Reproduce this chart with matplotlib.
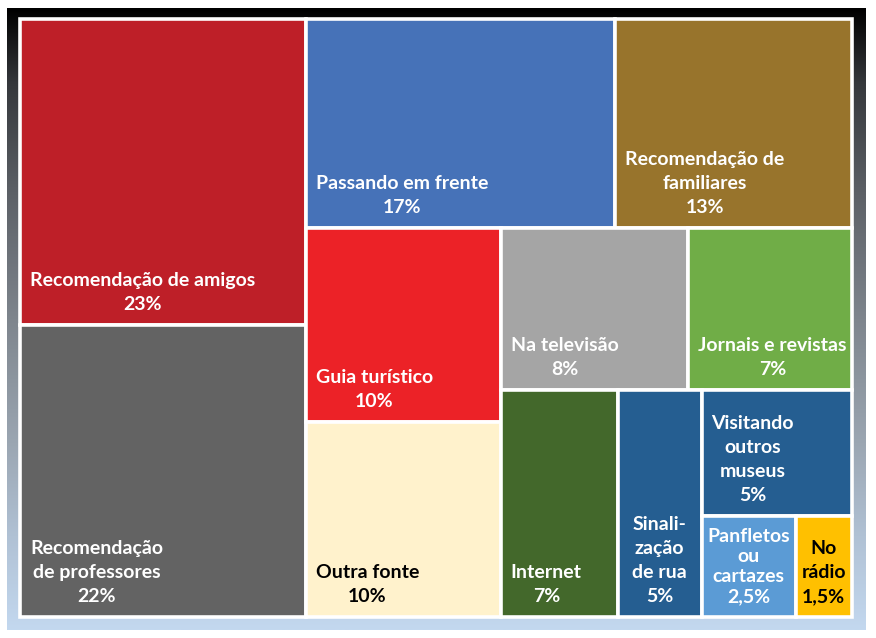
import numpy as np
import matplotlib
matplotlib.use("Agg")
import matplotlib.pyplot as plt
from matplotlib.patches import Rectangle
from matplotlib.colors import LinearSegmentedColormap

# ---------------- data ----------------
categories = ["Recomendação de amigos", "Recomendação\nde professores", "Passando em frente",
              "Recomendação de\nfamiliares", "Guia turístico", "Outra fonte", "Na televisão",
              "Jornais e revistas", "Internet", "Sinali-\nzação\nde rua", "Visitando\noutros\nmuseus",
              "Panfletos\nou\ncartazes", "No\nrádio"]
values = [23, 22, 17, 13, 10, 10, 8, 7, 7, 5, 5, 2.5, 1.5]

# ---------------- styles ----------------
colors = ["#BE1F28", "#636363", "#4672B8", "#98742C", "#EC2227", "#FFF2CC", "#A5A5A5",
          "#70AD47", "#43682B", "#255E91", "#255E91", "#5B9BD5", "#FFC000"]
text_colors = ["white"] * 5 + ["black"] + ["white"] * 6 + ["black"]
# number of tiles in each successive strip of the squarified layout
strips = [2, 2, 2, 2, 1, 1, 1, 1, 1]

plt.rcParams['font.family'] = ['Lato', 'DejaVu Sans']

W, H = 876, 638
fig = plt.figure(figsize=(W / 100, H / 100), dpi=100)
fig.patch.set_facecolor("white")

# background gradient frame
bg = fig.add_axes([0, 0, 1, 1])
bg.set_xlim(0, W)
bg.set_ylim(H, 0)
bg.axis("off")
cmap = LinearSegmentedColormap.from_list("bg", [
    (0.0, "#000000"), (0.12, "#35383c"), (0.3, "#5d6167"), (0.5, "#7e858d"),
    (0.7, "#9ba6b2"), (0.85, "#b0c1d4"), (1.0, "#c3d8ef")])
grad = np.linspace(0, 1, 256).reshape(-1, 1)
bg.imshow(grad, cmap=cmap, aspect="auto", extent=[7, 866, 630, 8], interpolation="bilinear")

# treemap axes
x0p, x1p, y0p, y1p = 20, 852, 19, 617
ax = fig.add_axes([x0p / W, (H - y1p) / H, (x1p - x0p) / W, (y1p - y0p) / H])
AW, AH = x1p - x0p, y1p - y0p
ax.set_xlim(0, AW)
ax.set_ylim(AH, 0)
ax.axis("off")


def layout(vals, strips, x, y, w, h):
    rects = []
    i = 0
    remaining = float(sum(vals))
    for n in strips:
        group = vals[i:i + n]
        s = float(sum(group))
        if w >= h:
            cw = w * s / remaining
            yy = y
            for v in group:
                hh = h * v / s
                rects.append((x, yy, cw, hh))
                yy += hh
            x += cw
            w -= cw
        else:
            ch = h * s / remaining
            xx = x
            for v in group:
                ww = w * v / s
                rects.append((xx, y, ww, ch))
                xx += ww
            y += ch
            h -= ch
        remaining -= s
        i += n
    return rects


def fmt(v):
    if float(v).is_integer():
        return "%d%%" % v
    return ("%g%%" % v).replace(".", ",")


rects = layout(values, strips, 0, 0, AW, AH)
for (rx, ry, rw, rh), cat, v, c, tc in zip(rects, categories, values, colors, text_colors):
    ax.add_patch(Rectangle((rx, ry), rw, rh, facecolor=c, edgecolor="white",
                           linewidth=2.6, clip_on=False))
    label = cat + "\n" + fmt(v)
    nlines = label.count("\n") + 1
    ls = 1.5 if nlines * 25 <= rh - 10 else 1.22
    if rw < 100:
        ax.annotate(label, (rx + rw / 2, ry + rh), xytext=(0, 12), textcoords="offset pixels",
                    ha="center", va="bottom", multialignment="center", color=tc,
                    fontsize=14, fontweight="bold", linespacing=ls)
    else:
        ax.annotate(label, (rx, ry + rh), xytext=(10, 12), textcoords="offset pixels",
                    ha="left", va="bottom", multialignment="center", color=tc,
                    fontsize=14, fontweight="bold", linespacing=ls)

fig.savefig("out.png", dpi=100)
